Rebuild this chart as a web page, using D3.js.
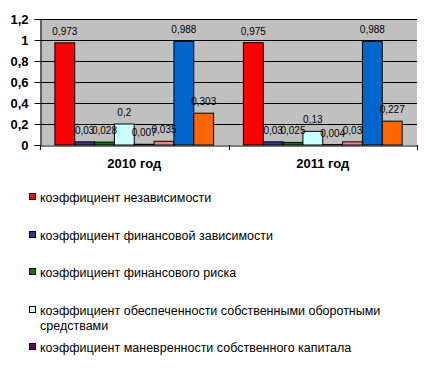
<!DOCTYPE html>
<html><head><meta charset="utf-8">
<script src="https://cdn.jsdelivr.net/npm/d3@7"></script>
<style>body{margin:0;background:#fff}svg{display:block}</style>
</head><body>
<svg id="c" width="429" height="377"></svg>
<script>
const categories = ["2010 год", "2011 год"];
const seriesNames = [
  "коэффициент независимости",
  "коэффициент финансовой зависимости",
  "коэффициент финансового риска",
  "коэффициент обеспеченности собственными оборотными средствами",
  "коэффициент маневренности собственного капитала",
  "ряд 6",
  "ряд 7",
  "ряд 8"
];
const values2010 = [0.973, 0.03, 0.028, 0.2, 0.007, 0.035, 0.988, 0.303];
const values2011 = [0.975, 0.03, 0.025, 0.13, 0.004, 0.03, 0.988, 0.227];
const labels2010 = ["0,973", "0,03", "0,028", "0,2", "0,007", "0,035", "0,988", "0,303"];
const labels2011 = ["0,975", "0,03", "0,025", "0,13", "0,004", "0,03", "0,988", "0,227"];
const colors = ["#FF0000", "#333399", "#008000", "#CCFFFF", "#660066", "#FF8080", "#0066CC", "#FF6600"];
const yTicks = [0, 0.2, 0.4, 0.6, 0.8, 1, 1.2];
const yTickLabels = ["0", "0,2", "0,4", "0,6", "0,8", "1", "1,2"];
const legendShown = 5;

const svg = d3.select("#c");
const font = "'Liberation Sans', Arial, sans-serif";
const m = {l: 40, r: 12, t: 19, b: 232};
const W = 429, H = 377;
const x0 = d3.scaleBand().domain(categories).range([m.l, W - m.r]).paddingInner(0).paddingOuter(0);
const y = d3.scaleLinear().domain([0, 1.2]).range([H - m.b, m.t]);
const groupW = x0.bandwidth() * 8 / 9.5;
const x1 = d3.scaleBand().domain(d3.range(8)).range([0, groupW]).padding(0);
const off = (x0.bandwidth() - groupW) / 2;

// plot background
svg.append("rect").attr("x", m.l).attr("y", m.t).attr("width", W - m.r - m.l).attr("height", y(0) - m.t).attr("fill", "#C0C0C0");
// gridlines
svg.append("g").selectAll("line").data(yTicks.slice(1)).join("line")
  .attr("x1", m.l).attr("x2", W - m.r).attr("y1", d => Math.round(y(d)) + 0.5).attr("y2", d => Math.round(y(d)) + 0.5)
  .attr("stroke", "#000").attr("stroke-width", 1);

const data = [values2010, values2011];
const labs = [labels2010, labels2011];
categories.forEach((c, ci) => {
  const g = svg.append("g").attr("transform", `translate(${x0(c) + off},0)`);
  g.selectAll("rect").data(data[ci]).join("rect")
    .attr("x", (d, i) => x1(i)).attr("width", x1.bandwidth())
    .attr("y", d => y(d)).attr("height", d => y(0) - y(d))
    .attr("fill", (d, i) => colors[i]).attr("stroke", "#000").attr("stroke-width", 1);
  g.selectAll("text").data(data[ci]).join("text")
    .attr("x", (d, i) => x1(i) + x1.bandwidth() / 2).attr("y", d => y(d) - 8)
    .attr("text-anchor", "middle").attr("font-family", font).attr("font-size", 10).attr("fill", "#000")
    .text((d, i) => labs[ci][i]);
});

// axes
const yAxis = d3.axisLeft(y).tickValues(yTicks).tickFormat((d, i) => yTickLabels[i]).tickSize(6);
const ya = svg.append("g").attr("transform", `translate(${m.l + 0.5},0)`).call(yAxis);
ya.selectAll("text").attr("font-family", font).attr("font-size", 13).attr("font-weight", "bold").attr("fill", "#000").attr("x", -12);
ya.selectAll("line").attr("stroke", "#000");
ya.select(".domain").attr("stroke", "#000");

const xAxis = d3.axisBottom(x0).tickSize(0).tickSizeOuter(0);
const xa = svg.append("g").attr("transform", `translate(0,${Math.round(y(0)) + 0.5})`).call(xAxis);
xa.select(".domain").attr("stroke", "#000");
xa.selectAll("text").attr("font-family", font).attr("font-size", 13).attr("font-weight", "bold").attr("fill", "#000").attr("dy", "1.1em").attr("y", 8);
// category separator ticks
const sep = [m.l, x0(categories[1]), W - m.r];
svg.append("g").selectAll("line").data(sep).join("line")
  .attr("x1", d => Math.round(d) + 0.5).attr("x2", d => Math.round(d) + 0.5)
  .attr("y1", y(0)).attr("y2", y(0) + 5).attr("stroke", "#000");

// legend
const legY = [197, 235, 272, 310, 347];
const lg = svg.append("g");
seriesNames.slice(0, legendShown).forEach((name, i) => {
  lg.append("rect").attr("x", 29.5).attr("y", legY[i] - 3.5).attr("width", 6).attr("height", 6)
    .attr("fill", colors[i]).attr("stroke", "#000").attr("stroke-width", 1);
  const t = lg.append("text").attr("x", 40).attr("y", legY[i] + 4.5).attr("font-family", font).attr("font-size", 12.5).attr("fill", "#000");
  if (i === 3) {
    t.append("tspan").attr("x", 40).text("коэффициент обеспеченности собственными оборотными");
    t.append("tspan").attr("x", 40).attr("dy", 15).text("средствами");
  } else {
    t.text(name);
  }
});
</script>
</body></html>
